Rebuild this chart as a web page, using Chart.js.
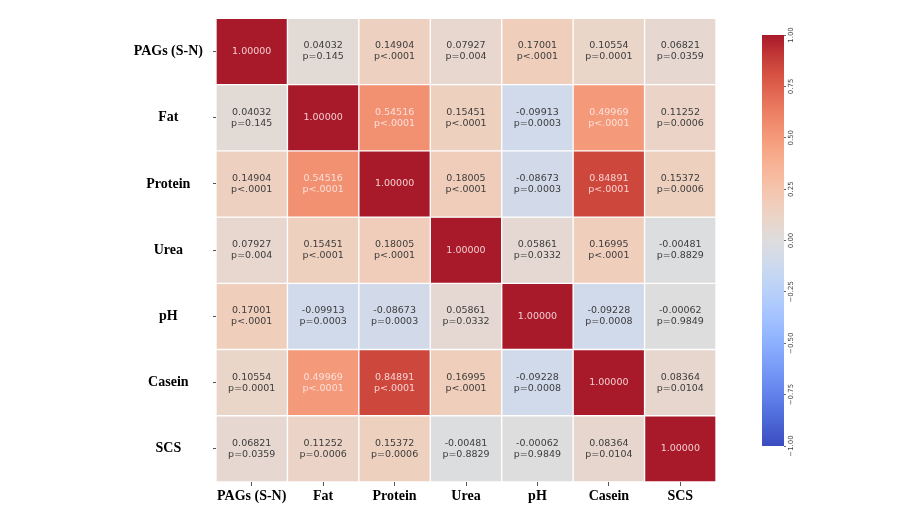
<!DOCTYPE html>
<html>
<head>
<meta charset="utf-8">
<script src="https://cdn.jsdelivr.net/npm/chart.js@4.4.1/dist/chart.umd.min.js"></script>
<style>
  html, body { margin: 0; padding: 0; background: #fff; }
  #wrap { position: relative; width: 900px; height: 506px; }
  #heat { position: absolute; left: 0; top: 0; }
  #cbar { position: absolute; left: 740px; top: 0; }
</style>
</head>
<body>
<div id="wrap">
  <canvas id="heat" width="740" height="506"></canvas>
  <canvas id="cbar" width="80" height="506"></canvas>
</div>
<script>
// variables (same order on both axes)
const labels = ['PAGs (S-N)', 'Fat', 'Protein', 'Urea', 'pH', 'Casein', 'SCS'];

// Pearson correlations, row by row
const corr = [
    [1, 0.04032, 0.14904, 0.07927, 0.17001, 0.10554, 0.06821],
    [0.04032, 1, 0.54516, 0.15451, -0.09913, 0.49969, 0.11252],
    [0.14904, 0.54516, 1, 0.18005, -0.08673, 0.84891, 0.15372],
    [0.07927, 0.15451, 0.18005, 1, 0.05861, 0.16995, -0.00481],
    [0.17001, -0.09913, -0.08673, 0.05861, 1, -0.09228, -0.00062],
    [0.10554, 0.49969, 0.84891, 0.16995, -0.09228, 1, 0.08364],
    [0.06821, 0.11252, 0.15372, -0.00481, -0.00062, 0.08364, 1]
];

// p-values as printed in the cells
const pvals = [
    ['', 'p=0.145', 'p<.0001', 'p=0.004', 'p<.0001', 'p=0.0001', 'p=0.0359'],
    ['p=0.145', '', 'p<.0001', 'p<.0001', 'p=0.0003', 'p<.0001', 'p=0.0006'],
    ['p<.0001', 'p<.0001', '', 'p<.0001', 'p=0.0003', 'p<.0001', 'p=0.0006'],
    ['p=0.004', 'p<.0001', 'p<.0001', '', 'p=0.0332', 'p<.0001', 'p=0.8829'],
    ['p<.0001', 'p=0.0003', 'p=0.0003', 'p=0.0332', '', 'p=0.0008', 'p=0.9849'],
    ['p=0.0001', 'p<.0001', 'p<.0001', 'p<.0001', 'p=0.0008', '', 'p=0.0104'],
    ['p=0.0359', 'p=0.0006', 'p=0.0006', 'p=0.8829', 'p=0.9849', 'p=0.0104', '']
];

// colour bar ticks
const cbarTicks = [-1, -0.75, -0.5, -0.25, 0, 0.25, 0.5, 0.75, 1];

// coolwarm colormap (Moreland table, 33 steps)
const coolwarm = [
    [59,76,192],[68,90,204],[77,104,215],[87,117,225],[98,130,234],[108,142,241],
    [119,154,247],[130,165,251],[141,176,254],[152,185,255],[163,194,255],[174,201,253],
    [184,208,249],[194,213,244],[204,217,238],[213,219,230],[221,221,221],[229,216,209],
    [236,211,197],[241,204,185],[245,196,173],[247,187,160],[247,177,148],[247,166,135],
    [244,154,123],[241,141,111],[236,127,99],[229,112,88],[222,96,77],[213,80,66],
    [200,64,58],[186,44,50],[168,26,42]
];

function colorFor(v) {
    // v in [-1, 1] -> rgb string
    const t = Math.max(0, Math.min(1, (v + 1) / 2)) * (coolwarm.length - 1);
    const i = Math.min(Math.floor(t), coolwarm.length - 2);
    const f = t - i;
    const a = coolwarm[i], b = coolwarm[i + 1];
    const c = a.map((x, k) => Math.round(x + (b[k] - x) * f));
    return `rgb(${c[0]}, ${c[1]}, ${c[2]})`;
}

// one floating-bar dataset per row, each bar spans [row, row+1] on a reversed y axis
const datasets = corr.map((row, r) => ({
    label: labels[r],
    data: row.map(() => [r, r + 1]),
    backgroundColor: row.map(v => colorFor(v)),
    borderColor: '#ffffff',
    borderWidth: 1,
    borderSkipped: false,
    grouped: false,
    barPercentage: 1,
    categoryPercentage: 1
}));

// writes the value and p-value in each cell
const cellText = {
    id: 'cellText',
    afterDatasetsDraw(chart) {
        const ctx = chart.ctx;
        ctx.save();
        ctx.font = '9.5px "DejaVu Sans"';
        ctx.textAlign = 'center';
        ctx.textBaseline = 'middle';
        chart.data.datasets.forEach((ds, r) => {
            chart.getDatasetMeta(r).data.forEach((bar, c) => {
                const v = corr[r][c];
                const cy = (bar.y + bar.base) / 2;
                ctx.fillStyle = Math.abs(v) > 0.4 ? 'rgba(255, 236, 236, 0.85)' : '#3c3c3c';
                if (r === c) {
                    ctx.fillText(v.toFixed(5), bar.x, cy);
                } else {
                    ctx.fillText(v.toFixed(5), bar.x, cy - 5.5);
                    ctx.fillText(pvals[r][c], bar.x, cy + 5.5);
                }
            });
        });
        ctx.restore();
    }
};

const axisFont = { family: '"Liberation Serif", "Times New Roman", serif', size: 14, weight: 'bold' };

new Chart(document.getElementById('heat').getContext('2d'), {
    type: 'bar',
    data: { labels: labels, datasets: datasets },
    options: {
        responsive: false,
        animation: false,
        layout: { padding: { top: 7, right: 24 } },
        plugins: { legend: { display: false }, tooltip: { enabled: false } },
        scales: {
            x: {
                grid: { display: true, offset: false, drawOnChartArea: false, tickLength: 4, color: '#555' },
                border: { display: false },
                ticks: { font: axisFont, color: '#000', padding: 2, maxRotation: 0, autoSkip: false },
                afterFit: scale => { scale.height = 24; }
            },
            y: {
                type: 'linear',
                reverse: true,
                min: 0,
                max: labels.length,
                grid: { display: true, drawOnChartArea: false, tickLength: 3, color: '#555' },
                border: { display: false },
                afterBuildTicks: axis => {
                    axis.ticks = labels.map((l, i) => ({ value: i + 0.5 }));
                },
                ticks: {
                    font: axisFont,
                    color: '#000',
                    padding: 10,
                    crossAlign: 'center',
                    callback: v => labels[Math.floor(v)]
                },
                afterFit: scale => { scale.width = 216; }
            }
        }
    },
    plugins: [cellText]
});

// colour bar: a single floating bar from -1 to 1 filled with the colormap
new Chart(document.getElementById('cbar').getContext('2d'), {
    type: 'bar',
    data: {
        labels: ['r'],
        datasets: [{
            data: [[-1, 1]],
            barPercentage: 1,
            categoryPercentage: 1,
            borderWidth: 0,
            backgroundColor: ctx => {
                const area = ctx.chart.chartArea;
                if (!area) return '#ddd';
                const g = ctx.chart.ctx.createLinearGradient(0, area.bottom, 0, area.top);
                coolwarm.forEach((c, i) => {
                    g.addColorStop(i / (coolwarm.length - 1), `rgb(${c[0]}, ${c[1]}, ${c[2]})`);
                });
                return g;
            }
        }]
    },
    options: {
        responsive: false,
        animation: false,
        layout: { padding: { left: 22, top: 35, bottom: 60 } },
        plugins: { legend: { display: false }, tooltip: { enabled: false } },
        scales: {
            x: { display: false },
            y: {
                position: 'right',
                min: -1,
                max: 1,
                grid: { display: true, drawOnChartArea: false, tickLength: 2, color: '#666' },
                border: { display: false },
                afterBuildTicks: axis => {
                    axis.ticks = cbarTicks.map(v => ({ value: v }));
                },
                ticks: {
                    font: { family: '"DejaVu Sans"', size: 7 },
                    color: '#444',
                    minRotation: 90,
                    maxRotation: 90,
                    crossAlign: 'center',
                    padding: -6,
                    callback: v => v.toFixed(2).replace('-', '\u2212')
                },
                afterFit: scale => { scale.width = 36; }
            }
        }
    }
});
</script>
</body>
</html>
